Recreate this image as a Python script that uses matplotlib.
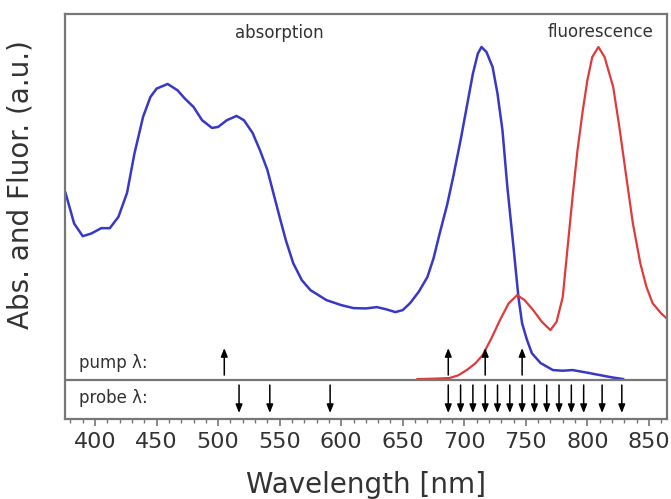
import matplotlib.pyplot as plt
from matplotlib.ticker import MultipleLocator

# absorption spectrum (blue)
abs_nm = [376, 383, 390, 397, 405, 412, 419, 426, 432, 439, 445, 450, 459,
          467, 473, 480, 487, 495, 500, 507, 515, 521, 528, 534, 540, 545,
          550, 555, 561, 568, 575, 588, 600, 610, 620, 629, 637, 644, 650,
          656, 663, 670, 675, 680, 686, 691, 697, 702, 707, 711, 714, 718,
          723, 727, 731, 735, 740, 744, 747, 751, 755, 762, 772, 780, 788,
          800, 810, 820, 829]
abs_val = [0.562, 0.470, 0.432, 0.440, 0.456, 0.456, 0.490, 0.562, 0.680,
           0.790, 0.850, 0.875, 0.889, 0.870, 0.845, 0.820, 0.780, 0.757,
           0.760, 0.780, 0.793, 0.780, 0.742, 0.690, 0.631, 0.560, 0.489,
           0.420, 0.351, 0.300, 0.270, 0.240, 0.225, 0.216, 0.215, 0.219,
           0.212, 0.204, 0.210, 0.231, 0.265, 0.309, 0.365, 0.440, 0.525,
           0.610, 0.720, 0.820, 0.920, 0.980, 1.000, 0.985, 0.940, 0.860,
           0.751, 0.580, 0.399, 0.249, 0.170, 0.120, 0.080, 0.051, 0.030,
           0.028, 0.030, 0.022, 0.015, 0.008, 0.003]

# fluorescence spectrum (red)
fl_nm = [662, 675, 688, 695, 702, 709, 715, 722, 729, 736, 743, 749, 756,
         763, 770, 775, 780, 784, 788, 792, 796, 800, 804, 809, 814, 821,
         826, 832, 837, 843, 848, 853, 860, 866]
fl_val = [0.003, 0.004, 0.006, 0.014, 0.030, 0.050, 0.075, 0.125, 0.180,
          0.230, 0.255, 0.240, 0.210, 0.175, 0.150, 0.175, 0.249, 0.400,
          0.550, 0.690, 0.802, 0.900, 0.970, 1.000, 0.970, 0.880, 0.760,
          0.601, 0.470, 0.351, 0.280, 0.231, 0.200, 0.180]

pump_nm = [505, 687, 717, 747]
probe_nm = [517, 542, 591, 687, 697, 707, 717, 727, 737, 747, 757, 767,
            777, 787, 797, 812, 828]

gray = '#777777'
txt = '#333333'

fig = plt.figure(figsize=(6.71, 4.99), dpi=100)
ax = fig.add_axes([0.0969, 0.1603, 0.8971, 0.8116])

ax.plot(abs_nm, abs_val, color='#3838c8', lw=1.8)
ax.plot(fl_nm, fl_val, color='#e03a3a', lw=1.6)

ax.axhline(0, color=gray, lw=1.6)

for x in pump_nm:
    ax.annotate('', xy=(x, 0.096), xytext=(x, 0.015),
                arrowprops=dict(arrowstyle='-|>,head_length=0.5,head_width=0.2',
                                color='black', lw=1.1, shrinkA=0, shrinkB=0))
for x in probe_nm:
    ax.annotate('', xy=(x, -0.099), xytext=(x, -0.015),
                arrowprops=dict(arrowstyle='-|>,head_length=0.5,head_width=0.2',
                                color='black', lw=1.1, shrinkA=0, shrinkB=0))

ax.text(387, 0.051, 'pump λ:', fontsize=12, color=txt, va='center')
ax.text(387, -0.054, 'probe λ:', fontsize=12, color=txt, va='center')
ax.text(550, 1.041, 'absorption', fontsize=12, color=txt, ha='center', va='center')
ax.text(811, 1.044, 'fluorescence', fontsize=12, color=txt, ha='center', va='center')

ax.set_xlim(375.6, 864.7)
ax.set_ylim(-0.117, 1.099)

ax.xaxis.set_major_locator(MultipleLocator(50))
ax.xaxis.set_minor_locator(MultipleLocator(10))
ax.set_yticks([])
ax.tick_params(axis='x', which='major', direction='out', length=5, width=1.2,
               color=gray, labelsize=16, labelcolor=txt, pad=4)
ax.tick_params(axis='x', which='minor', direction='out', length=3, width=1.0,
               color=gray)
for s in ax.spines.values():
    s.set_color(gray)
    s.set_linewidth(1.6)

ax.set_xlabel('Wavelength [nm]', fontsize=20, color=txt, va='center')
ax.xaxis.set_label_coords(0.5, -0.163)
ax.set_ylabel('Abs. and Fluor. (a.u.)', fontsize=20, color=txt, va='center')
ax.yaxis.set_label_coords(-0.074, 0.578)

fig.savefig('out.png', dpi=100)
